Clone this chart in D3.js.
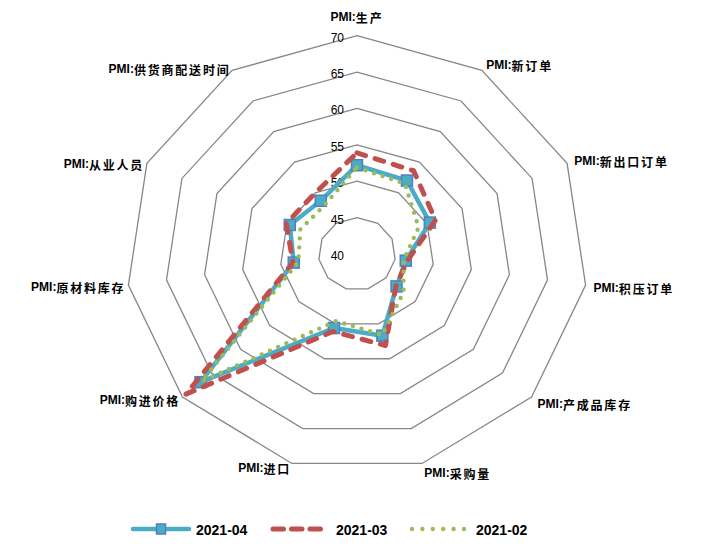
<!DOCTYPE html>
<html><head><meta charset="utf-8">
<script src="https://cdn.jsdelivr.net/npm/d3@7"></script>
<style>
html,body{margin:0;padding:0;background:#fff;}
svg{display:block;}
</style></head>
<body>
<script>
const categories = ["PMI:生产","PMI:新订单","PMI:新出口订单","PMI:积压订单","PMI:产成品库存","PMI:采购量","PMI:进口","PMI:购进价格","PMI:原材料库存","PMI:从业人员","PMI:供货商配送时间"];
const seriesNames = ["2021-04","2021-03","2021-02"];
const values202104 = [52.2,52.0,50.4,46.4,46.8,51.7,50.6,66.9,48.3,49.6,48.7];
const values202103 = [53.9,53.6,51.2,46.6,46.7,53.1,51.1,69.4,48.4,50.1,50.0];
const values202102 = [51.9,51.5,48.8,46.1,48.0,51.6,49.6,66.7,47.7,48.1,47.9];
const tickValues = [40,45,50,55,60,65,70];

const W=704,H=545;
const cx=357, cy=254, sx=1.058, R=218.3;
const svg=d3.select("body").append("svg").attr("width",W).attr("height",H);

const r=d3.scaleLinear().domain([40,70]).range([0,R]);
const ang=d3.scaleLinear().domain([0,categories.length]).range([0,2*Math.PI]);
const px=(i,v)=>cx+sx*r(v)*Math.sin(ang(i));
const py=(i,v)=>cy-r(v)*Math.cos(ang(i));
const poly=d3.line().x(d=>px(d.i,d.v)).y(d=>py(d.i,d.v)).curve(d3.curveLinearClosed);

// grid
const g=svg.append("g");
tickValues.filter(t=>t>40).forEach(t=>{
  g.append("path").attr("d",poly(categories.map((c,i)=>({i,v:t}))))
   .attr("fill","none").attr("stroke","#878787").attr("stroke-width",1.3);
});
// tick labels
tickValues.forEach(t=>{
  svg.append("text").attr("x",cx-13).attr("y",py(0,t)+2)
   .attr("text-anchor","end").attr("dominant-baseline","central")
   .attr("font-family","Liberation Sans, Arial, sans-serif").attr("font-size",12)
   .attr("fill","#000").text(t);
});

// category labels
categories.forEach((c,i)=>{
  const a=ang(i);
  const vx=px(i,70), vy=py(i,70);
  let x,y,anchor;
  if(i===0){ x=vx; y=vy-19; anchor="middle"; }
  else {
    const off = Math.sin(a)>0 ? 8 : 3;
    x=vx+off*Math.sin(a); y=vy-off*Math.cos(a)+1.5;
    anchor=Math.sin(a)>0?"start":"end";
  }
  const t=svg.append("text").attr("x",x).attr("y",y).attr("text-anchor",anchor)
   .attr("dominant-baseline","central").attr("font-weight","bold").attr("fill","#000");
  t.append("tspan").attr("font-family","Liberation Sans, Arial, sans-serif").attr("font-size",12).text(c.slice(0,4));
  t.append("tspan").attr("font-family","Noto Sans CJK SC, sans-serif").attr("font-size",12).attr("letter-spacing",1.8).text(c.slice(4));
});

const series=[
  {name:seriesNames[0],vals:values202104,color:"#4BACC6",w:4.5,dash:null},
  {name:seriesNames[1],vals:values202103,color:"#C0504D",w:5,dash:"9 10"},
  {name:seriesNames[2],vals:values202102,color:"#9BBB59",w:4.4,dash:"0 9"}
];
series.forEach((s,k)=>{
  const pts=s.vals.map((v,i)=>({i,v}));
  const p=svg.append("path").attr("d",poly(pts)).attr("fill","none")
   .attr("stroke",s.color).attr("stroke-width",s.w).attr("stroke-linecap","round").attr("stroke-linejoin","round");
  if(s.dash) p.attr("stroke-dasharray",s.dash);
  if(k===0){
    svg.selectAll(null).data(pts).enter().append("rect")
     .attr("x",d=>px(d.i,d.v)-5.5).attr("y",d=>py(d.i,d.v)-5.5)
     .attr("width",11).attr("height",11)
     .attr("fill","#4BACC6").attr("stroke","#4F81BD").attr("stroke-width",1.5);
  }
});

// legend
const ly=529;
const leg=[{x0:133,x1:189,tx:196},{x0:273,x1:324,tx:336},{x0:412,x1:464,tx:476}];
series.forEach((s,k)=>{
  const L=leg[k];
  const ln=svg.append("line").attr("x1",L.x0).attr("x2",L.x1).attr("y1",ly).attr("y2",ly)
   .attr("stroke",s.color).attr("stroke-width",s.w).attr("stroke-linecap","round");
  if(k===1) ln.attr("stroke-dasharray","10.5 8");
  if(k===2) ln.attr("stroke-dasharray","0 10.4");
  if(k===0){
    svg.append("rect").attr("x",(L.x0+L.x1)/2-4.5).attr("y",ly-5).attr("width",9).attr("height",10)
     .attr("fill","#4BACC6").attr("stroke","#4F81BD").attr("stroke-width",1.5);
  }
  svg.append("text").attr("x",L.tx).attr("y",ly+0.5).attr("dominant-baseline","central")
   .attr("font-family","Liberation Sans, Arial, sans-serif").attr("font-size",14).attr("font-weight","bold")
   .attr("fill","#000").text(s.name);
});
</script>
</body></html>
